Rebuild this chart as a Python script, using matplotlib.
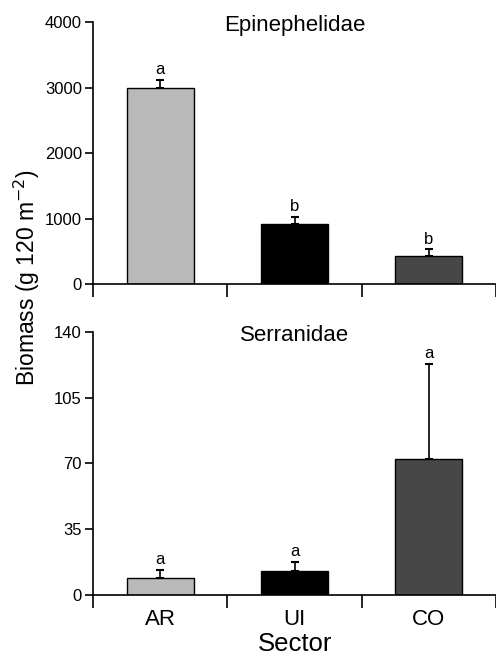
import numpy as np
import matplotlib
matplotlib.use("Agg")
import matplotlib.pyplot as plt

plt.rcParams['font.family'] = ['Liberation Sans', 'DejaVu Sans']

sectors = ['AR', 'UI', 'CO']
colors = ['#b9b9b9', '#000000', '#474747']

epi_mean = [3000, 920, 425]
epi_err = [120, 110, 105]
epi_letters = ['a', 'b', 'b']

ser_mean = [9.0, 12.5, 72.5]
ser_err = [4.4, 5.2, 50.3]
ser_letters = ['a', 'a', 'a']

fig = plt.figure(figsize=(4.96, 6.57), dpi=100)
ax1 = fig.add_axes([0.1875, 0.5677, 0.8125, 0.3988])
ax2 = fig.add_axes([0.1875, 0.0944, 0.8125, 0.4003])

x = np.arange(1, 4)


def panel(ax, means, errs, letters, ymax, yticks, title, lab_off):
    ax.bar(x, means, width=0.5, color=colors, edgecolor='black', linewidth=1.0, zorder=2)
    ax.errorbar(x, means, yerr=[np.zeros(3), errs], fmt='none', ecolor='black',
                elinewidth=1.2, capsize=3, capthick=1.5, zorder=1)
    for xi, m, e, l in zip(x, means, errs, letters):
        ax.text(xi, m + e + lab_off, l, ha='center', va='bottom', fontsize=12)
    ax.set_xlim(0.5, 3.5)
    ax.set_ylim(0, ymax)
    ax.set_yticks(yticks)
    ax.set_xticks([0.5, 1.5, 2.5, 3.5])
    ax.set_xticklabels([])
    ax.spines['top'].set_visible(False)
    ax.spines['right'].set_visible(False)
    ax.spines['left'].set_linewidth(1.2)
    ax.spines['bottom'].set_linewidth(1.2)
    ax.tick_params(axis='y', direction='out', length=6, width=1.2, labelsize=12, pad=2)
    ax.tick_params(axis='x', direction='out', length=9, width=1.2)
    ax.text(0.5, 0.985, title, transform=ax.transAxes, ha='center', va='center', fontsize=16)


panel(ax1, epi_mean, epi_err, epi_letters, 4000, [0, 1000, 2000, 3000, 4000], 'Epinephelidae', 40)
panel(ax2, ser_mean, ser_err, ser_letters, 140, [0, 35, 70, 105, 140], 'Serranidae', 1.5)

for xi, s in zip(x, sectors):
    ax2.text(xi, -0.095, s, transform=ax2.get_xaxis_transform(), ha='center', va='center', fontsize=16)

fig.text(295 / 496, 1 - 644 / 657, 'Sector', ha='center', va='center', fontsize=18.5)
fig.text(27 / 496, 1 - 278 / 657, 'Biomass (g 120 m$^{-2}$)', rotation=90,
         ha='center', va='center', fontsize=16.5)

fig.savefig('out.png', dpi=100)
